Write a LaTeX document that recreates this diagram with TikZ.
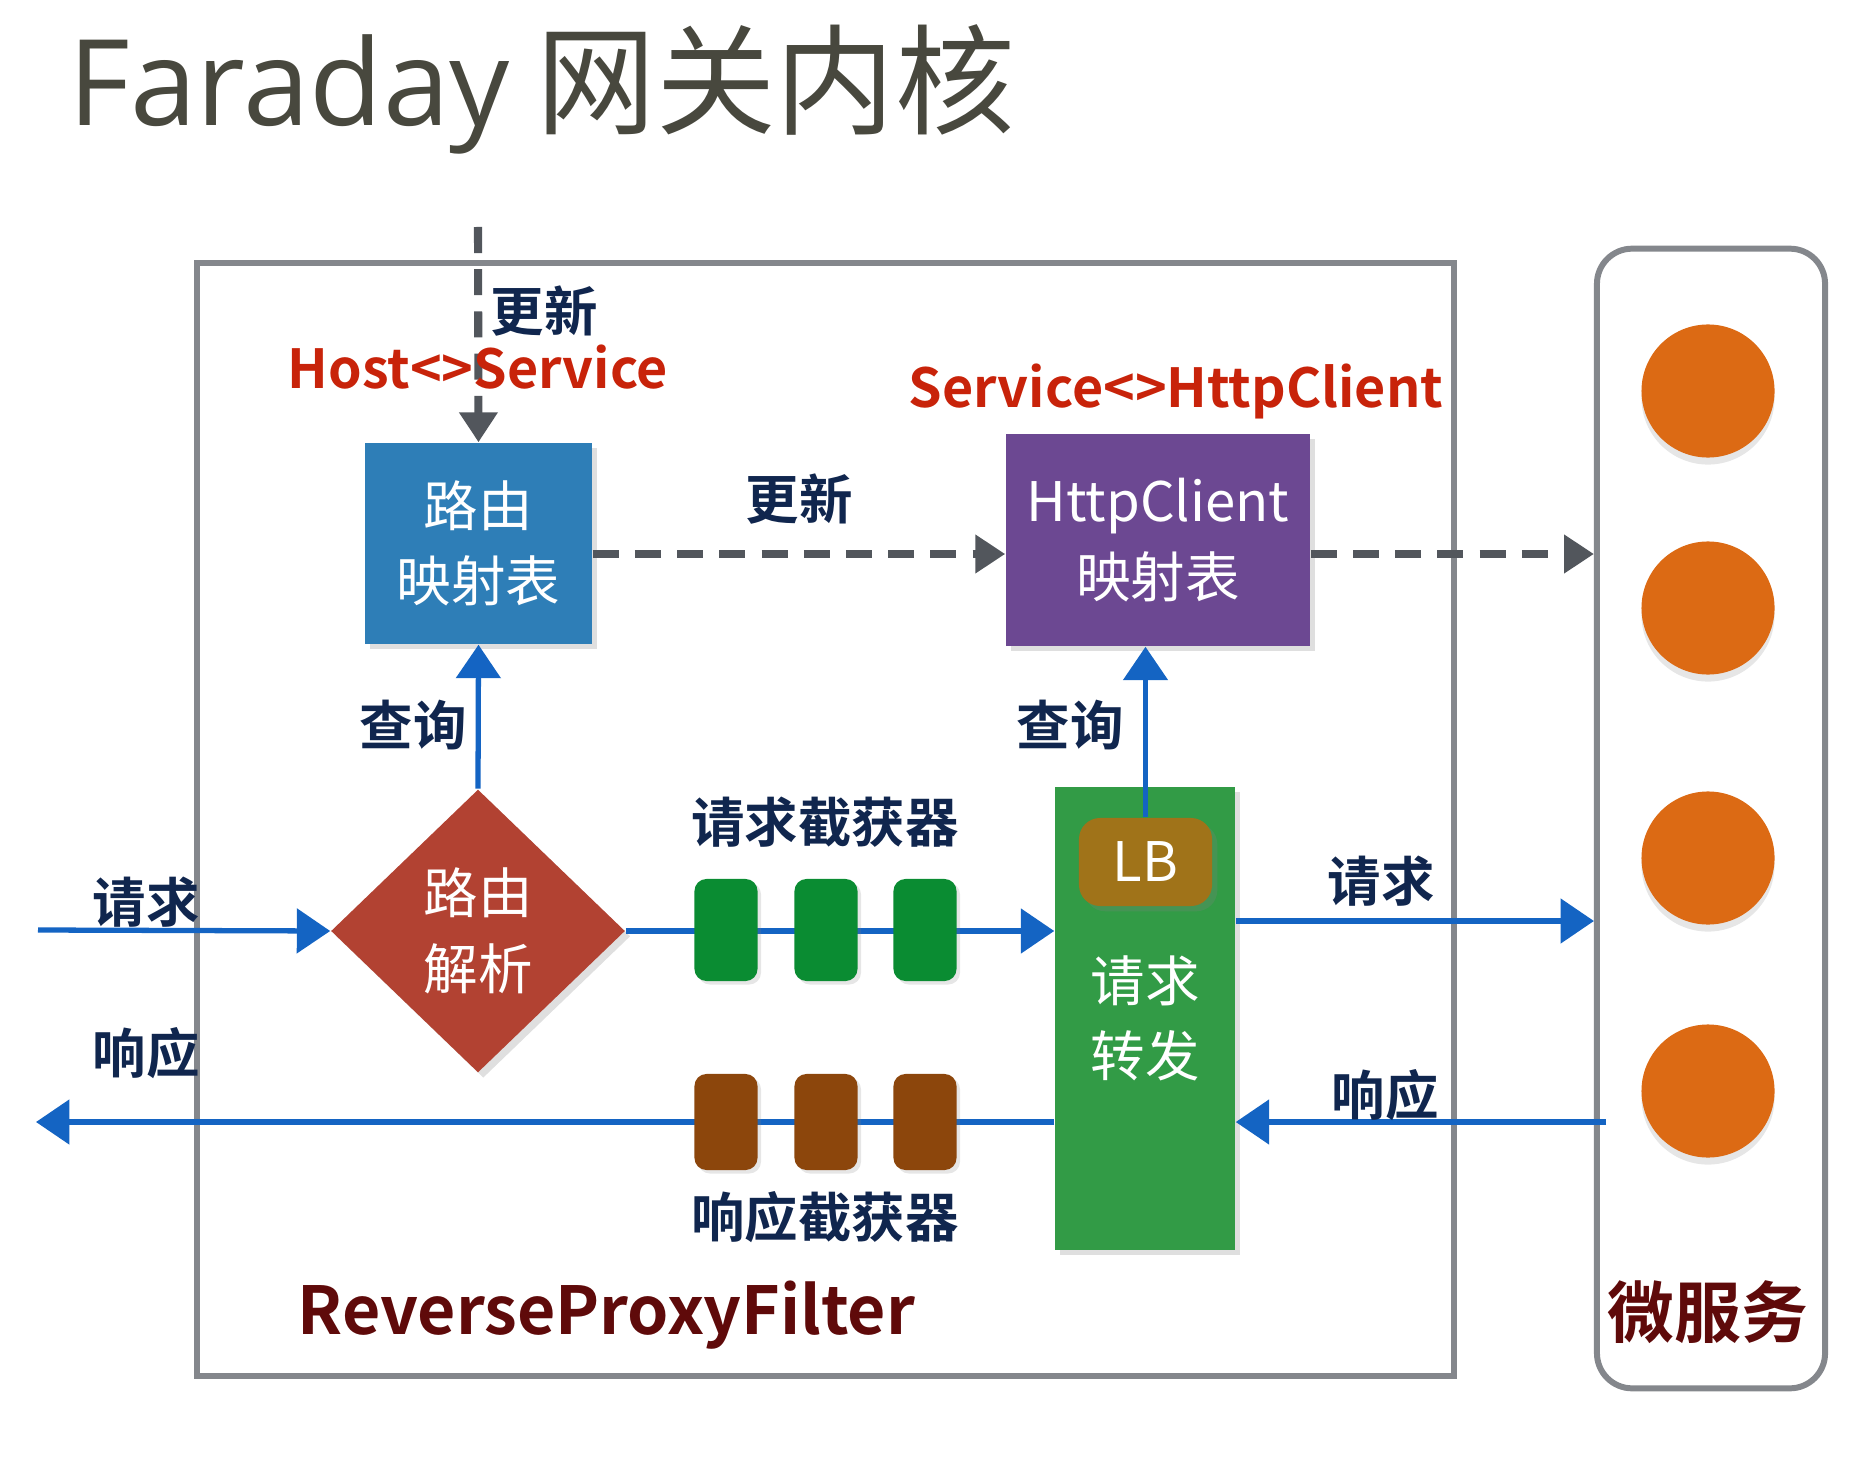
\documentclass[tikz,border=0pt]{standalone}
\usepackage{fontspec}
\setmainfont{Noto Sans CJK SC}[BoldFont={Noto Sans CJK SC Bold}]
\newfontfamily\titlefont{Open Sans}
\usetikzlibrary{shapes.geometric, arrows.meta, positioning, shadows}
\definecolor{TITLE}{RGB}{72,72,62}
\definecolor{NAVY}{RGB}{16,38,78}
\definecolor{HOTRED}{RGB}{200,35,10}
\definecolor{DARKRED}{RGB}{95,10,10}
\definecolor{FRAME}{RGB}{132,135,140}
\definecolor{DASHGRAY}{RGB}{82,86,92}
\definecolor{FLOW}{RGB}{20,100,195}
\definecolor{MAPBLUE}{RGB}{46,126,183}
\definecolor{MAPPURPLE}{RGB}{108,72,146}
\definecolor{ROUTERED}{RGB}{178,66,50}
\definecolor{FWDGREEN}{RGB}{50,155,70}
\definecolor{LBGOLD}{RGB}{160,115,25}
\definecolor{REQGREEN}{RGB}{10,140,50}
\definecolor{RESPBROWN}{RGB}{140,70,12}
\definecolor{SVCORANGE}{RGB}{220,106,20}

\tikzset{
  frame/.style={draw=FRAME, line width=1.7pt, inner sep=0},
  mapbox/.style={inner sep=0, text=white, align=center,
    font=\fontsize{15.5}{21.5}\selectfont,
    drop shadow={opacity=0.25, shadow xshift=1.5pt, shadow yshift=-1.5pt}},
  svc/.style={circle, fill=SVCORANGE, minimum size=1.33cm, inner sep=0,
    drop shadow={opacity=0.2, shadow xshift=0pt, shadow yshift=-2pt}},
  filt/.style={rounded corners=3.4pt, minimum width=0.63cm, minimum height=1.02cm, inner sep=0,
    drop shadow={opacity=0.2, shadow xshift=1pt, shadow yshift=-1pt}},
  lbl/.style={text=NAVY, font=\bfseries\fontsize{15.2}{18}\selectfont, inner sep=0},
  tag/.style={text=HOTRED, font=\bfseries\fontsize{15.3}{18}\selectfont, inner sep=0},
  update/.style={draw=DASHGRAY, line width=2.3pt, dash pattern=on 7.4pt off 4.6pt,
    -{Triangle[length=8.5pt,width=10.5pt]}},
  flow/.style={draw=FLOW, line width=1.5pt, -{Triangle[length=9.5pt,width=12.5pt]}}
}

\begin{document}
\begin{tikzpicture}[x=0.01cm, y=-0.01cm]
\useasboundingbox (0,0) rectangle (1876,1458);

\node[anchor=base west, text=TITLE, font=\fontsize{34}{40}\selectfont, inner sep=0] (title) at (68,126) {{\titlefont Faraday} 网关内核};

% frames and services
\node[frame, minimum width=12.57cm, minimum height=11.13cm] (pxy) at (825.5,819.5) {};
\node[frame, rounded corners=10pt, minimum width=2.28cm, minimum height=11.39cm] (msvc) at (1711,818.5) {};
\foreach \i/\cy in {1/391, 2/608, 3/858, 4/1091}
  \node[svc] (svc\i) at (1708,\cy) {};

% main boxes
\node[mapbox, fill=MAPBLUE, minimum width=2.27cm, minimum height=2.01cm] (routemap) at (478.5,543.5) {路由\\映射表};
\node[mapbox, fill=MAPPURPLE, minimum width=3.04cm, minimum height=2.12cm] (hcmap) at (1158,540) {HttpClient\\映射表};
\node[mapbox, diamond, fill=ROUTERED, minimum width=2.94cm, minimum height=2.83cm] (route) at (478,931) {路由\\解析};
\node[mapbox, fill=FWDGREEN, minimum width=1.80cm, minimum height=4.63cm] (fwd) at (1145,1018.5) {请求\\转发};
\node[mapbox, fill=LBGOLD, rounded corners=6pt, minimum width=1.33cm, minimum height=0.88cm] (lb) at (1145.5,862) {LB};

% rows
\coordinate (updsrc) at (478,227);
\coordinate (updrow) at (0,554);
\coordinate (reqin) at (38,930);
\coordinate (reqrow) at (0,921);
\coordinate (respin) at (1606,1122);
\coordinate (respout) at (36,1122);

% update paths
\draw[update] (updsrc) -- (routemap.north);
\draw[update] (routemap.east |- updrow) -- (hcmap.west |- updrow);
\draw[update] (hcmap.east |- updrow) -- (msvc.west |- updrow);

% request / response flow
\draw[flow] (reqin) -- (route.west);
\draw[flow] (route.east) -- (route.east -| fwd.west);
\draw[flow] (fwd.east |- reqrow) -- (msvc.west |- reqrow);
\draw[flow] (respin) -- (respin -| fwd.east);
\draw[flow] (fwd.west |- respin) -- (respout);
\draw[flow] (route.north) -- (routemap.south);
\draw[flow] (lb.north) -- (lb.north |- hcmap.south);

% interceptors
\foreach \i/\fx in {1/726, 2/826, 3/925} {
  \node[filt, fill=REQGREEN] (reqf\i) at (\fx,930) {};
  \node[filt, fill=RESPBROWN, minimum height=0.96cm] (respf\i) at (\fx,1122) {};
}

% labels
\node[lbl] (upd1) at (544,311) {更新};
\node[tag, anchor=base] (hsmap) at (478,389) {Host<>Service};
\node[tag, anchor=base] (schmap) at (1176,407) {Service<>HttpClient};
\node[lbl] (upd2) at (799,499) {更新};
\node[lbl] (qry1) at (413,725) {查询};
\node[lbl] (qry2) at (1070,725) {查询};
\node[lbl] (reqflt) at (825,822) {请求截获器};
\node[lbl] (respflt) at (825,1217) {响应截获器};
\node[lbl] (reql) at (146,902) {请求};
\node[lbl] (respl) at (146,1053) {响应};
\node[lbl] (reqr) at (1381,881) {请求};
\node[lbl] (respr) at (1385,1095) {响应};
\node[anchor=base west, text=DARKRED, font=\bfseries\fontsize{18.8}{24}\selectfont, inner sep=0] (pxyname) at (297,1334) {ReverseProxyFilter};
\node[text=DARKRED, font=\bfseries\fontsize{19}{24}\selectfont, inner sep=0] (msvcname) at (1708,1312) {微服务};
\end{tikzpicture}
\end{document}
